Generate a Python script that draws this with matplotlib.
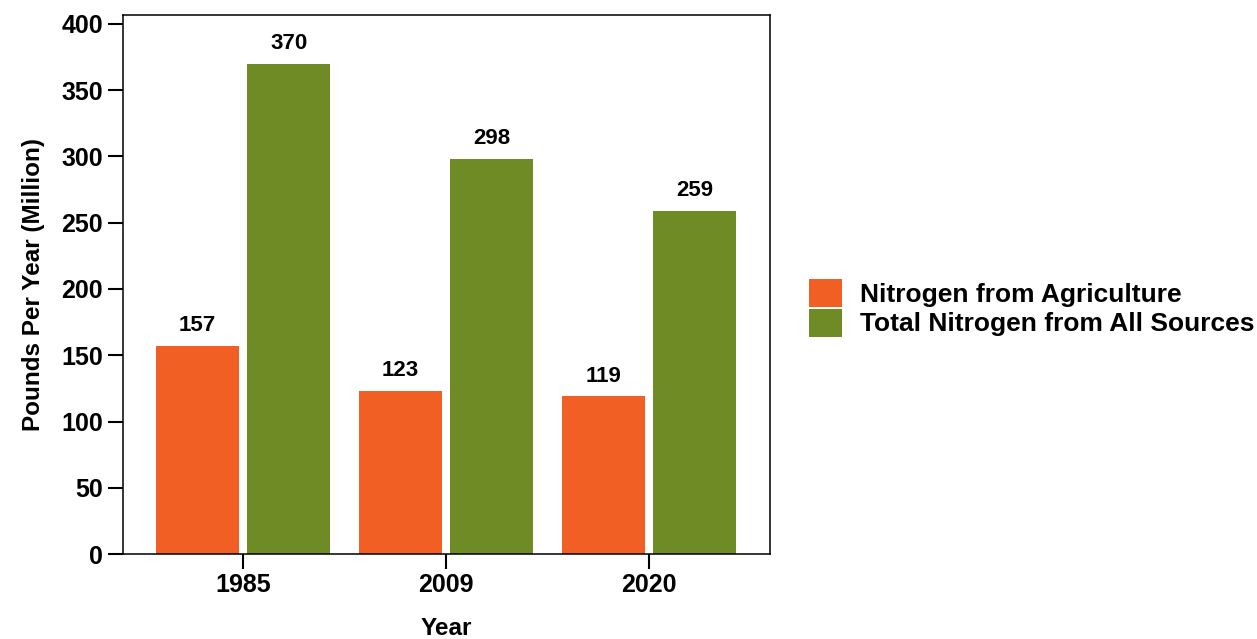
import numpy as np
import matplotlib
matplotlib.use("Agg")
import matplotlib.pyplot as plt

# datos
years = ["1985", "2009", "2020"]
agriculture = [157, 123, 119]
total = [370, 298, 259]
series_names = ["Nitrogen from Agriculture", "Total Nitrogen from All Sources"]
colors = ["#F25F24", "#6E8B25"]

plt.rcParams["font.family"] = ["Liberation Sans", "DejaVu Sans"]
plt.rcParams["font.weight"] = "bold"

fig = plt.figure(figsize=(12.57, 6.39), dpi=100)
ax = fig.add_axes([0.0976, 0.133, 0.515, 0.844])

x = np.arange(len(years))
w = 0.41
b1 = ax.bar(x - 0.225, agriculture, w, color=colors[0], label=series_names[0])
b2 = ax.bar(x + 0.225, total, w, color=colors[1], label=series_names[1])

for bars in (b1, b2):
    ax.bar_label(bars, padding=7, fontsize=16, fontweight="bold")

ax.set_xlim(-0.593, 2.596)
ax.set_ylim(0, 407)
ax.set_yticks(range(0, 401, 50))
ax.set_xticks(x)
ax.set_xticklabels(years)
ax.tick_params(axis="both", direction="out", length=11, width=1.5, labelsize=18, pad=3)
for lbl in ax.get_xticklabels() + ax.get_yticklabels():
    lbl.set_fontweight("bold")
for s in ax.spines.values():
    s.set_linewidth(1.1)

ax.set_xlabel("Year", fontsize=17.5, fontweight="bold", labelpad=14)
ax.set_ylabel("Pounds Per Year (Million)", fontsize=17.5, fontweight="bold", labelpad=12)

fig.legend(handles=[b1, b2], loc="center left", bbox_to_anchor=(0.6436, 0.518),
           frameon=False, fontsize=19, handlelength=1.25, handleheight=1.25,
           handletextpad=0.68, labelspacing=0.05, borderpad=0, borderaxespad=0)

fig.savefig("out.png", dpi=100)
